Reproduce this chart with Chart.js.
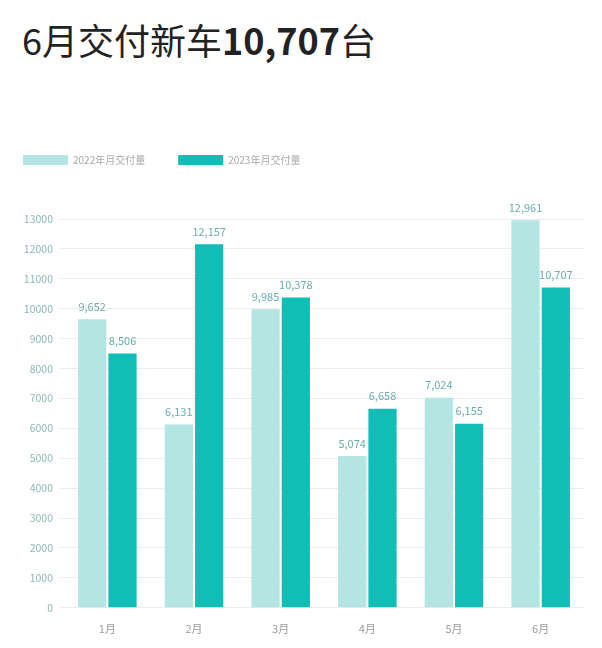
<!DOCTYPE html>
<html>
<head>
<meta charset="utf-8">
<script src="https://cdn.jsdelivr.net/npm/chart.js@4"></script>
<style>
  body { margin: 0; background: #fff; width: 602px; height: 648px; overflow: hidden; }
  .title { position: absolute; left: 22px; top: 13px; font-family: "Noto Sans CJK SC", "Noto Sans", sans-serif; font-size: 36px; color: #222; white-space: nowrap; }
  .title b { font-weight: 700; }
  .chart-box { position: absolute; left: -10px; top: 107px; width: 612px; height: 541px; }
</style>
</head>
<body>
<div class="title">6月交付新车<b>10,707</b>台</div>
<div class="chart-box"><canvas id="deliveryChart"></canvas></div>
<script>
const months = ['1月', '2月', '3月', '4月', '5月', '6月'];
const deliveries2022 = [9652, 6131, 9985, 5074, 7024, 12961];
const deliveries2023 = [8506, 12157, 10378, 6658, 6155, 10707];
const seriesNames = ['2022年月交付量', '2023年月交付量'];

const fontFamily = '"Noto Sans CJK SC", "Noto Sans", sans-serif';

// legend sits well above the plot, push the plot down
const legendGap = {
  id: 'legendGap',
  beforeInit(chart) {
    const fit = chart.legend.fit;
    chart.legend.fit = function () {
      fit.bind(chart.legend)();
      this.height += 44;
    };
  }
};

// value labels above each bar
const valueLabels = {
  id: 'valueLabels',
  afterDatasetsDraw(chart) {
    const ctx = chart.ctx;
    ctx.save();
    ctx.font = '11px ' + fontFamily;
    ctx.fillStyle = '#6aaeac';
    ctx.textAlign = 'center';
    ctx.textBaseline = 'bottom';
    chart.data.datasets.forEach((ds, i) => {
      chart.getDatasetMeta(i).data.forEach((bar, j) => {
        ctx.fillText(ds.data[j].toLocaleString('en-US'), bar.x, bar.y - 7);
      });
    });
    ctx.restore();
  }
};

const ctx = document.getElementById('deliveryChart').getContext('2d');
const chart = new Chart(ctx, {
  type: 'bar',
  data: {
    labels: months,
    datasets: [
      { label: seriesNames[0], data: deliveries2022, backgroundColor: '#b4e5e3' },
      { label: seriesNames[1], data: deliveries2023, backgroundColor: '#12bdb5' }
    ]
  },
  options: {
    responsive: true,
    maintainAspectRatio: false,
    animation: false,
    categoryPercentage: 0.7,
    barPercentage: 0.93,
    layout: { padding: { left: 0, right: 18, top: 15, bottom: 7 } },
    plugins: {
      legend: {
        align: 'start',
        labels: {
          boxWidth: 45,
          boxHeight: 10,
          padding: 33,
          color: '#a8a8a8',
          font: { size: 10, family: fontFamily }
        }
      },
      tooltip: { enabled: false }
    },
    scales: {
      x: {
        grid: { display: false },
        border: { display: false },
        ticks: { color: '#9a9a9a', padding: 6, font: { size: 11, family: fontFamily } }
      },
      y: {
        min: 0,
        max: 13000,
        afterFit(scale) { scale.width = 74; },
        grid: { color: '#ececec', tickLength: 4 },
        border: { display: false },
        ticks: {
          stepSize: 1000,
          color: '#8cb8b6',
          padding: 7,
          font: { size: 10.5, family: fontFamily },
          callback: (value) => String(value)
        }
      }
    }
  },
  plugins: [legendGap, valueLabels]
});
</script>
</body>
</html>
